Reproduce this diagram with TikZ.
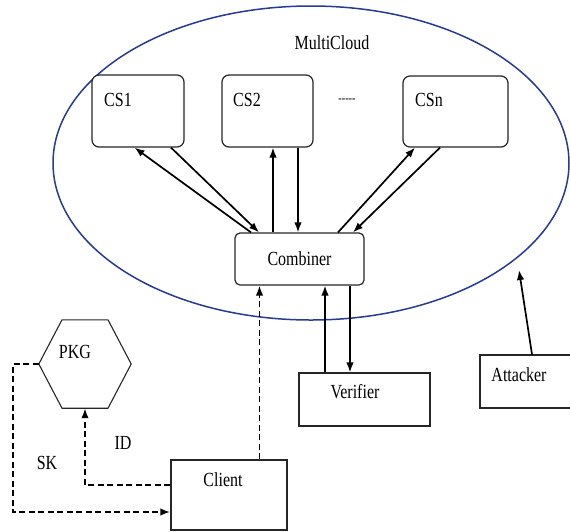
\documentclass[tikz,border=0pt]{standalone}
\usepackage{fontspec}
\setmainfont[FakeStretch=0.8]{Liberation Serif}
\usetikzlibrary{shapes.geometric,arrows.meta}
\definecolor{cloudblue}{RGB}{38,58,150}

\begin{document}
\begin{tikzpicture}[x=1pt, y=-1pt, font=\fontsize{20}{22}\selectfont,
	box/.style={draw=black!85, line width=1.2pt, fill=white, inner sep=0pt},
	rbox/.style={box, rounded corners=7pt},
	arr/.style={line width=1.7pt, -{Latex[length=10pt,width=7.5pt]}},
	dasharr/.style={arr, line width=2.1pt, dash pattern=on 6pt off 3.5pt}]
	\useasboundingbox (0,0) rectangle (570,531);
	% the cloud
	\node[ellipse, draw=cloudblue, line width=1.5pt, minimum width=516pt, minimum height=314pt] (cloud) at (311,163) {};
	\node (mc) at (332,43) {MultiCloud};
	% servers
	\node[rbox, minimum width=92pt,  minimum height=72pt] (cs1) at (138,111)     {};
	\node[rbox, minimum width=91pt,  minimum height=72pt] (cs2) at (267.5,111)   {};
	\node[rbox, minimum width=105pt, minimum height=71pt] (csn) at (455.5,111.5) {};
	\node (cs1lbl) at (118,100) {CS1};
	\node (cs2lbl) at (247,100) {CS2};
	\node (csnlbl) at (429,100) {CSn};
	\node[font=\fontsize{13}{14}\selectfont] (dots) at (347,101) {{-}{-}{-}{-}{-}};
	\node[rbox, rounded corners=5pt, minimum width=129pt, minimum height=52pt] (comb) at (299.5,259) {Combiner};
	% outside the cloud
	\node[box, minimum width=131pt, minimum height=53pt] (ver)    at (364.5,399.5) {};
	\node[box, minimum width=92pt,  minimum height=53pt] (att)    at (526,381.5)   {};
	\node[box, minimum width=116pt, minimum height=70pt] (client) at (229,495)     {};
	\node[minimum width=92pt, minimum height=88pt, inner sep=0pt] (pkg) at (85,364) {};
	\draw[black!85, line width=1.1pt] (pkg.west) -- ([xshift=-23]pkg.north) -- ([xshift=23]pkg.north)
		-- (pkg.east) -- ([xshift=23]pkg.south) -- ([xshift=-23]pkg.south) -- cycle;
	\node (verlbl)    at (355,392) {Verifier};
	\node (attlbl)    at (519,375) {Attacker};
	\node (clientlbl) at (223,480) {Client};
	\node (pkglbl)    at (75,352)  {PKG};
	\node (idlbl)     at (123,443) {ID};
	\node (sklbl)     at (47,463)  {SK};
	\coordinate (hit) at (519,270);

	% servers <-> combiner
	\foreach \s/\ds/\dc in {cs1/-3.5/-48.5, cs2/5.5/-26.5, csn/-40.5/38.5}
	\draw[arr] ([xshift=\dc]comb.north) -- ([xshift=\ds]\s.south);
	\foreach \s/\ds/\dc in {cs1/33/-40.5, cs2/30.5/-1.5, csn/-15.5/53.5}
	\draw[arr] ([xshift=\ds]\s.south) -- ([xshift=\dc]comb.north);
	\draw[arr] ([xshift=-39.5]ver.north) -- ([xshift=25.5]comb.south);
	\draw[arr] ([xshift=50.5]comb.south) -- ([xshift=-14.5]ver.north);
	\draw[arr] ([xshift=6]att.north) -- (hit);
	% key exchange
	\draw[dasharr] (pkg.west) -- ++(-26,0) |- ([yshift=-17]client.west);
	\draw[dasharr] ([yshift=10]client.west) -| (pkg.south);
	\draw[dasharr, line width=1.6pt] ([xshift=30.5]client.north) -- ([xshift=-40]comb.south);
\end{tikzpicture}
\end{document}
